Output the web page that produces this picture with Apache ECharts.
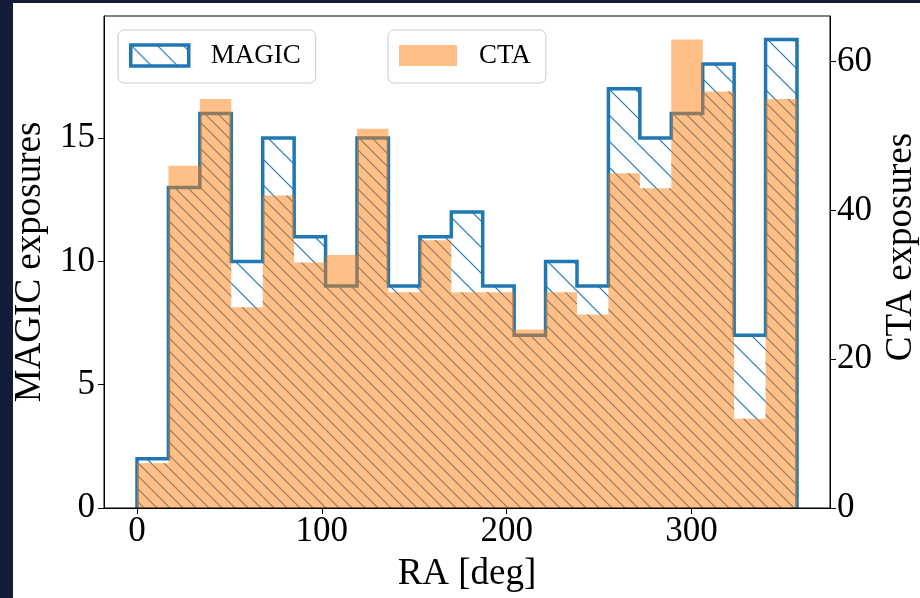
<!DOCTYPE html>
<html><head><meta charset="utf-8">
<script src="https://cdn.jsdelivr.net/npm/echarts@6/dist/echarts.min.js"></script>
<style>
html,body{margin:0;padding:0;background:#131d3b;width:920px;height:598px;overflow:hidden}
#paper{position:absolute;left:13px;top:3px;width:907px;height:595px;background:#fff}
#chart{position:absolute;left:0;top:0;width:920px;height:598px}
</style></head><body>
<div id="paper"></div><div id="chart"></div>
<script>
// ---- data ----
const binEdges = [0,17,34,51,68,85,102,119,136,153,170,187,204,221,238,255,272,289,306,323,340,357];
const magicCounts = [2,13,16,10,15,11,9,15,9,11,12,9,7,10,9,17,15,16,18,7,19];
const ctaCounts = [6,46,55,27,42,33,34,51,29,36,29,29,24,29,26,45,43,63,56,12,55];
const xTicks = [0,100,200,300];
const magicTicks = [0,5,10,15];
const ctaTicks = [0,20,40,60];
const xRange = [-17.85, 374.85];
const magicRange = [0, 19.95];
const ctaRange = [0, 66.15];

// ---- styles ----
const FONT = 'Liberation Serif';
const BLUE = '#1f77b4';
const ORANGE_A = 'rgba(255,127,14,0.5)';

function hatchCanvas(color, size, lw, shift) {
  const c = document.createElement('canvas');
  c.width = size; c.height = size;
  const g = c.getContext('2d');
  g.strokeStyle = color; g.lineWidth = lw;
  g.beginPath();
  for (let k = -2; k <= 2; k++) {
    g.moveTo(k * size + shift - 2, -2);
    g.lineTo(k * size + shift + size + 2, size + 2);
  }
  g.stroke();
  return c;
}
const hatchFill = {image: hatchCanvas(BLUE, 26, 1.2, 0), repeat: 'repeat'};
const hatchFill2 = {image: hatchCanvas(BLUE, 26, 1.2, 13), repeat: 'repeat'};

const magicBins = magicCounts.map((v, i) => [binEdges[i], binEdges[i + 1], v, ctaCounts[i]]);
const ctaBins = ctaCounts.map((v, i) => [binEdges[i], binEdges[i + 1], v]);
const outline = [[binEdges[0], 0]];
magicCounts.forEach((v, i) => outline.push([binEdges[i], v]));
outline.push([binEdges[binEdges.length - 1], magicCounts[magicCounts.length - 1]]);
outline.push([binEdges[binEdges.length - 1], 0]);

function rectRender(fill) {
  return function (params, api) {
    const p0 = api.coord([api.value(0), api.value(2)]);
    const p1 = api.coord([api.value(1), 0]);
    return {
      type: 'rect',
      shape: {x: p0[0], y: p0[1], width: p1[0] - p0[0], height: p1[1] - p0[1]},
      style: {fill: fill, stroke: null}
    };
  };
}
let chart;
// overlap of MAGIC and CTA bins (extra hatch lines seen under the orange)
function overlapRender(params, api) {
  const p0 = api.coord([api.value(0), api.value(2)]);
  const p1 = api.coord([api.value(1), 0]);
  let yc;
  try { yc = chart.convertToPixel({yAxisIndex: 1}, api.value(3)); } catch (e) { yc = null; }
  if (typeof yc !== 'number' || isNaN(yc)) {
    yc = api.coord([api.value(0), api.value(3) * magicRange[1] / ctaRange[1]])[1];
  }
  const top = Math.max(p0[1], yc);
  return {
    type: 'rect',
    shape: {x: p0[0], y: top, width: p1[0] - p0[0], height: p1[1] - top},
    style: {fill: hatchFill2, stroke: null}
  };
}

chart = echarts.init(document.getElementById('chart'), null, {renderer: 'canvas'});
const tickLabel = {fontFamily: FONT, fontSize: 35, color: '#000'};
chart.setOption({
  animation: false,
  backgroundColor: 'transparent',
  grid: {left: 104, right: 90, top: 16, bottom: 90, show: true, borderColor: '#000', borderWidth: 1,
         backgroundColor: 'transparent', z: 10, containLabel: false, outerBoundsMode: 'none'},
  legend: [
    {
      left: 118, top: 30, data: [{name: 'MAGIC', icon: 'rect', itemStyle: {color: hatchFill, borderColor: BLUE, borderWidth: 3.5}}],
      itemWidth: 58, itemHeight: 21, padding: [12, 15, 14, 11],
      backgroundColor: '#fff', borderColor: '#cccccc', borderWidth: 1, borderRadius: 6,
      textStyle: {fontFamily: FONT, fontSize: 27, color: '#000', padding: [0, 0, 0, 17]}, selectedMode: false
    },
    {
      left: 388, top: 30, data: [{name: 'CTA', icon: 'rect', itemStyle: {color: ORANGE_A, borderWidth: 0}}],
      itemWidth: 58, itemHeight: 21, padding: [12, 15, 14, 11],
      backgroundColor: '#fff', borderColor: '#cccccc', borderWidth: 1, borderRadius: 6,
      textStyle: {fontFamily: FONT, fontSize: 27, color: '#000', padding: [0, 0, 0, 17]}, selectedMode: false
    }
  ],
  xAxis: {
    type: 'value', min: xRange[0], max: xRange[1], z: 10,
    name: 'RA [deg]', nameLocation: 'middle', nameGap: 48,
    nameTextStyle: {fontFamily: FONT, fontSize: 37, color: '#000'},
    axisLine: {show: true, onZero: false, lineStyle: {color: '#000', width: 1}},
    axisTick: {show: true, length: 6, customValues: xTicks, lineStyle: {color: '#000'}},
    axisLabel: Object.assign({margin: 6, customValues: xTicks}, tickLabel),
    splitLine: {show: false}
  },
  yAxis: [
    {
      type: 'value', min: magicRange[0], max: magicRange[1], position: 'left', z: 10,
      name: 'MAGIC exposures', nameLocation: 'middle', nameRotate: 90, nameGap: 50,
      nameTextStyle: {fontFamily: FONT, fontSize: 37, color: '#000'},
      axisLine: {show: true, onZero: false, lineStyle: {color: '#000', width: 1}},
      axisTick: {show: true, length: 6, customValues: magicTicks, lineStyle: {color: '#000'}},
      axisLabel: Object.assign({margin: 9, customValues: magicTicks}, tickLabel),
      splitLine: {show: false}
    },
    {
      type: 'value', min: ctaRange[0], max: ctaRange[1], position: 'right', z: 10,
      name: 'CTA exposures', nameLocation: 'middle', nameRotate: 90, nameGap: 43,
      nameTextStyle: {fontFamily: FONT, fontSize: 37, color: '#000', padding: [0, 0, 0, 30]},
      axisLine: {show: true, onZero: false, lineStyle: {color: '#000', width: 1}},
      axisTick: {show: true, length: 6, customValues: ctaTicks, lineStyle: {color: '#000'}},
      axisLabel: Object.assign({margin: 7, customValues: ctaTicks}, tickLabel),
      splitLine: {show: false}
    }
  ],
  series: [
    {
      name: 'MAGIC', type: 'custom', xAxisIndex: 0, yAxisIndex: 0, z: 2,
      data: magicBins, encode: {x: [0, 1], y: 2},
      renderItem: rectRender(hatchFill), itemStyle: {color: BLUE}
    },
    {
      name: 'MAGIC overlap', type: 'custom', xAxisIndex: 0, yAxisIndex: 0, z: 2, silent: true,
      data: magicBins, encode: {x: [0, 1], y: 2},
      renderItem: overlapRender
    },
    {
      name: 'MAGIC outline', type: 'line', xAxisIndex: 0, yAxisIndex: 0, z: 3,
      data: outline, step: 'end', symbol: 'none', silent: true,
      lineStyle: {color: BLUE, width: 3.5, join: 'miter', cap: 'butt'}
    },
    {
      name: 'CTA', type: 'custom', xAxisIndex: 0, yAxisIndex: 1, z: 4,
      data: ctaBins, encode: {x: [0, 1], y: 2},
      renderItem: rectRender(ORANGE_A), itemStyle: {color: ORANGE_A}
    }
  ]
});
</script>
</body></html>
